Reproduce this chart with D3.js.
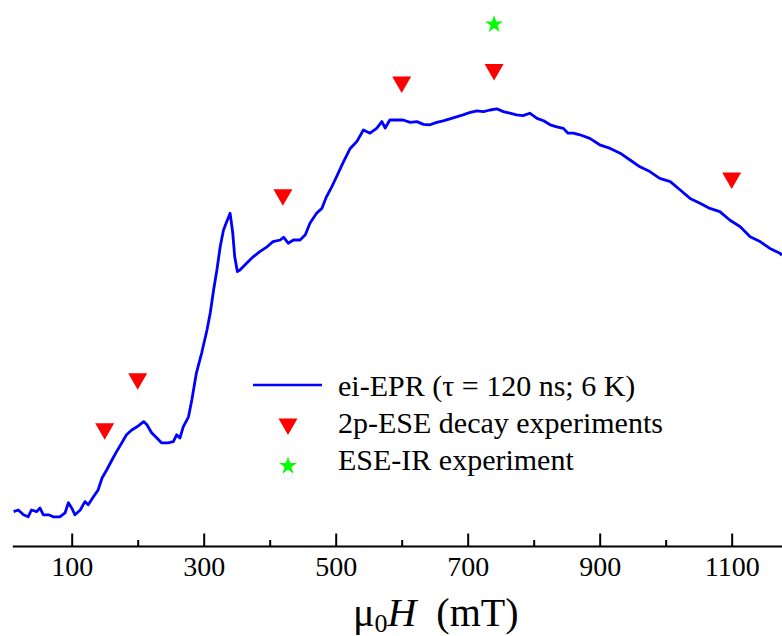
<!DOCTYPE html>
<html lang="en">
<head>
  <meta charset="UTF-8">
  <title>ei-EPR spectrum</title>
  <script src="https://d3js.org/d3.v7.min.js"></script>
  <style>
    body { margin: 0; background: #fff; }
    svg { display: block; font-family: "Liberation Serif", "Times New Roman", serif; }
    .axis path, .axis line { stroke: #000; stroke-width: 2; }
    .axis text { font-size: 28px; fill: #000; font-family: "Liberation Serif", serif; }
    .curve { fill: none; stroke: #0000ff; stroke-width: 2.8; stroke-linejoin: round; }
    .legend text { font-size: 30px; fill: #000; }
  </style>
</head>
<body>
  <svg width="782" height="636"></svg>
  <script>
    // ei-EPR trace (field in mT, intensity in arb. units)
    const fieldMT = [12, 19, 27, 34, 39, 47, 52, 57, 65, 72, 82, 90, 95, 100, 105, 113, 120, 125, 133, 140,
      146, 153, 161, 168, 176, 183, 191, 199, 209, 214, 221, 229, 236, 246, 254, 259, 264, 269, 277, 282,
      289, 297, 305, 310, 315, 320, 325, 330, 335, 340, 344, 347, 351, 355, 365, 375, 385, 396, 405, 416,
      421, 428, 436, 446, 454, 461, 471, 479, 486, 494, 499, 511, 522, 532, 542, 552, 562, 570, 575, 582,
      592, 602, 613, 623, 633, 643, 653, 663, 673, 683, 693, 704, 714, 724, 734, 744, 754, 764, 774, 784,
      794, 805, 815, 825, 835, 845, 852, 860, 870, 885, 900, 916, 931, 946, 961, 976, 991, 1007, 1022, 1037,
      1052, 1067, 1082, 1097, 1113, 1128, 1143, 1158, 1173, 1176];
    const intensity = [2.1, 2.5, 1.3, 0.8, 2.5, 2.1, 3.0, 1.3, 1.3, 0.8, 0.8, 1.8, 4.3, 3.0, 1.3, 2.5, 4.6, 3.8, 5.8, 7.5,
      10.5, 12.5, 15, 17.1, 19.3, 21.3, 22.5, 23.3, 24.6, 23.8, 21.8, 20.5, 19.3, 19.3, 19.6, 21.3, 20.5, 23.3, 25.8, 30,
      36.8, 41.8, 47.5, 51.8, 57.5, 62.5, 68.3, 72.5, 74.6, 76.7, 71.8, 65.8, 62.1, 62.5, 64.2, 65.8, 67.1, 68.3, 69.6, 70,
      70.7, 69.2, 70, 70, 71.3, 74.2, 76.7, 77.9, 80.8, 83.3, 85, 89.3, 92.9, 94.6, 97.5, 96.7, 97.9, 99.6, 98, 100,
      100, 100, 99.4, 99.6, 98.9, 98.8, 99.4, 99.8, 100.3, 100.8, 101.3, 101.9, 102.3, 102.1, 102.5, 102.8, 102.1, 101.7, 101.3, 101.1,
      101.7, 100.4, 99.8, 98.8, 98.3, 97.9, 96.7, 96.7, 96.3, 95.4, 93.8, 92.9, 91.7, 90, 88.3, 87.1, 85.4, 84.6, 82.5, 80.4,
      79.2, 77.9, 77.1, 75, 73.3, 70.8, 69.6, 67.9, 66.7, 66.2];

    // 2p-ESE decay experiment fields and marker heights
    const eseFields = [150, 200, 420, 600, 740, 1100];
    const eseLevels = [22.8, 35.3, 81.3, 109.5, 112.6, 85.5];

    // ESE-IR experiment
    const irFields = [740];
    const irLevels = [123.9];

    const majorTicks = [100, 300, 500, 700, 900, 1100];
    const minorTicks = [200, 400, 600, 800, 1000];

    const legendLabels = ["ei-EPR (\u03c4 = 120 ns; 6 K)", "2p-ESE decay experiments", "ESE-IR experiment"];

    const svg = d3.select("svg");

    const x = d3.scaleLinear().domain([10, 1177]).range([12.3, 782.5]);
    const y = d3.scaleLinear().domain([0, 100]).range([520, 120]);
    const axisY = 546;

    const data = fieldMT.map((f, i) => ({ f: f, v: intensity[i] }));

    // axis: major ticks with labels, minor ticks without
    svg.append("g")
      .attr("class", "axis")
      .attr("transform", `translate(0,${axisY})`)
      .call(d3.axisBottom(x).tickValues(majorTicks).tickSizeInner(-12.5).tickSizeOuter(0)
        .tickPadding(10).tickFormat(d3.format("d")));

    svg.append("g")
      .attr("class", "axis")
      .attr("transform", `translate(0,${axisY})`)
      .call(d3.axisBottom(x).tickValues(minorTicks).tickSizeInner(-6).tickSizeOuter(0).tickFormat(""))
      .select(".domain").remove();

    // axis title
    const title = svg.append("text")
      .attr("x", 353)
      .attr("y", 626)
      .style("font-size", "40px");
    title.append("tspan").text("\u03bc");
    title.append("tspan").attr("dy", 6).style("font-size", "26px").text("0");
    title.append("tspan").attr("dy", -6).style("font-style", "italic").text("H");
    title.append("tspan").attr("dx", 20).text("(mT)");

    // trace
    const line = d3.line().x(d => x(d.f)).y(d => y(d.v));
    svg.append("path")
      .datum(data)
      .attr("class", "curve")
      .attr("d", line);

    const tri = d3.symbol().type(d3.symbolTriangle).size(156);
    const star = d3.symbol().type(d3.symbolStar).size(100);

    svg.selectAll(".ese")
      .data(eseFields)
      .enter()
      .append("path")
      .attr("class", "ese")
      .attr("d", tri)
      .attr("fill", "#ff0000")
      .attr("transform", (d, i) => `translate(${x(d)},${y(eseLevels[i])}) rotate(180)`);

    svg.selectAll(".ir")
      .data(irFields)
      .enter()
      .append("path")
      .attr("class", "ir")
      .attr("d", star)
      .attr("fill", "#00ff00")
      .attr("transform", (d, i) => `translate(${x(d)},${y(irLevels[i])})`);

    // legend
    const lg = svg.append("g").attr("class", "legend");
    lg.append("line")
      .attr("x1", 253).attr("x2", 322)
      .attr("y1", 385).attr("y2", 385)
      .attr("stroke", "#0000ff").attr("stroke-width", 2.5);
    lg.append("path")
      .attr("d", tri)
      .attr("fill", "#ff0000")
      .attr("transform", "translate(288,424) rotate(180)");
    lg.append("path")
      .attr("d", star)
      .attr("fill", "#00ff00")
      .attr("transform", "translate(288,466)");
    lg.selectAll(".lab")
      .data(legendLabels)
      .enter()
      .append("text")
      .attr("class", "lab")
      .attr("x", 338)
      .attr("y", (d, i) => 396 + i * 37)
      .text(d => d);
  </script>
</body>
</html>
